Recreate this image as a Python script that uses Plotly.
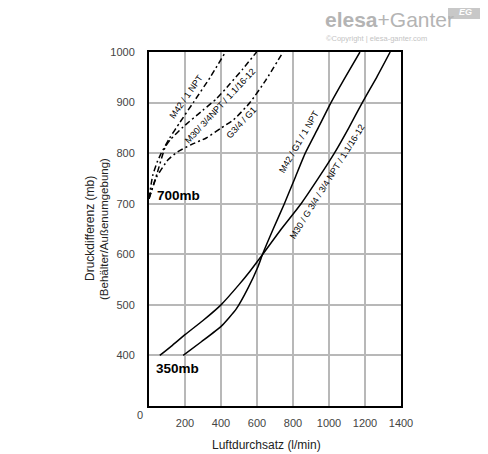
import plotly.graph_objects as go

# flow rate (l/min) vs pressure difference (mb)
m42_g1_x = [190, 291, 402, 485, 550, 606, 633, 690, 752, 810, 868, 940, 1011, 1090, 1172]
m42_g1_y = [400, 427, 458, 492, 533, 576, 602, 650, 700, 750, 800, 850, 900, 950, 1000]

m30_g34_x = [60, 130, 200, 300, 400, 500, 560, 628, 735, 845, 940, 1030, 1110, 1185, 1265, 1340]
m30_g34_y = [400, 420, 441, 469, 500, 540, 566, 598, 650, 700, 750, 800, 850, 900, 950, 1000]

m42_1npt_x = [0, 20, 45, 68, 115, 170, 246, 340, 425]
m42_1npt_y = [710, 755, 782, 800, 830, 860, 900, 950, 1000]

m30_34npt_x = [0, 45, 90, 117, 190, 300, 376, 450, 520, 598]
m30_34npt_y = [710, 760, 812, 826, 852, 885, 908, 937, 966, 1000]

g34_g1_x = [0, 41, 106, 161, 235, 318, 402, 470, 561, 650, 745]
g34_g1_y = [710, 752, 787, 803, 817, 830, 850, 866, 900, 945, 1000]

x_ticks = [200, 400, 600, 800, 1000, 1200, 1400]
y_ticks = [400, 500, 600, 700, 800, 900, 1000]

SANS = "Liberation Sans, Arial, sans-serif"

# page has an 8px body margin, so the figure is 8px smaller than the window
W, H = 480, 446
L, T, R, B = 141, 44, 87, 48
PW, PH = W - L - R, H - T - B


def px(x):
    # horizontal position in the reference picture -> paper coordinate
    return (x - 8 - L) / PW


def py(y):
    return (H - B - (y - 8)) / PH


fig = go.Figure()

solid = dict(color="black", width=1.5, shape="spline", smoothing=0.5)
dashdot = dict(color="black", width=1.5, dash="6px,3px,2px,3px", shape="spline", smoothing=0.5)

for xs, ys, style in [(m42_g1_x, m42_g1_y, solid), (m30_g34_x, m30_g34_y, solid),
                      (m42_1npt_x, m42_1npt_y, dashdot), (m30_34npt_x, m30_34npt_y, dashdot),
                      (g34_g1_x, g34_g1_y, dashdot)]:
    fig.add_trace(go.Scatter(x=xs, y=ys, mode="lines", line=style, hoverinfo="skip"))

# curve labels (centre in reference pixels, angle)
labels = [
    ("M42 / G1 / 1 NPT", 299, 142, -60),
    ("M30 / G 3/4 / 3/4 NPT / 1.1/16-12", 327, 182, -58),
    ("M42 / 1 NPT", 186, 97, -55),
    ("M30/ 3/4NPT / 1.1/16-12", 220, 106, -47),
    ("G3/4 / G1", 241, 123, -47),
]
for text, lx, ly, ang in labels:
    fig.add_annotation(x=px(lx), y=py(ly), xref="paper", yref="paper", text=text,
                       textangle=ang, showarrow=False, xanchor="center", yanchor="middle",
                       font=dict(family=SANS, size=9, color="black"))

texts = [
    ("<b>700mb</b>", 178, 195, 13.5, "black", 0),
    ("<b>350mb</b>", 177, 368, 13.5, "black", 0),
    ("0", 140, 415, 11, "#444", 0),
    ("Luftdurchsatz (l/min)", 266, 445, 12, "#222", 0),
    ("Druckdifferenz (mb)", 90, 229, 12, "#222", -90),
    ("(Behälter/Außenumgebung)", 104, 229, 11.5, "#222", -90),
    ("<b>elesa</b>+Ganter", 389, 20, 21, "#b4b4b4", 0),
    ("©Copyright | elesa-ganter.com", 376, 38, 7.5, "#c4c4c4", 0),
]
for text, tx, ty, size, color, ang in texts:
    fig.add_annotation(x=px(tx), y=py(ty), xref="paper", yref="paper", text=text,
                       textangle=ang, showarrow=False, xanchor="center", yanchor="middle",
                       font=dict(family=SANS, size=size, color=color))

# EG badge
fig.add_shape(type="rect", xref="paper", yref="paper", x0=px(448), x1=px(482),
              y0=py(19), y1=py(4), fillcolor="#c8c8c8", line=dict(width=0))
fig.add_annotation(x=px(465), y=py(12), xref="paper", yref="paper", text="<b><i>EG</i></b>",
                   showarrow=False, xanchor="center", yanchor="middle",
                   font=dict(family=SANS, size=9, color="white"))

fig.update_layout(
    width=W, height=H,
    margin=dict(l=L, r=R, t=T, b=B),
    paper_bgcolor="white", plot_bgcolor="white",
    showlegend=False,
)
fig.update_xaxes(range=[0, 1400], tickvals=x_ticks, showgrid=True, gridcolor="#b8b8b8",
                 gridwidth=1.5, zeroline=False, showline=True, mirror=True, automargin=False,
                 linecolor="black", linewidth=2, ticks="outside", ticklen=6,
                 tickcolor="rgba(0,0,0,0)", tickfont=dict(family=SANS, size=11, color="#444"))
fig.update_yaxes(range=[300, 1000], tickvals=y_ticks, showgrid=True, gridcolor="#b8b8b8",
                 gridwidth=1.5, zeroline=False, showline=True, mirror=True, automargin=False,
                 linecolor="black", linewidth=2, ticks="outside", ticklen=10,
                 tickcolor="rgba(0,0,0,0)", tickfont=dict(family=SANS, size=11, color="#444"))

fig.write_html("out.html")
